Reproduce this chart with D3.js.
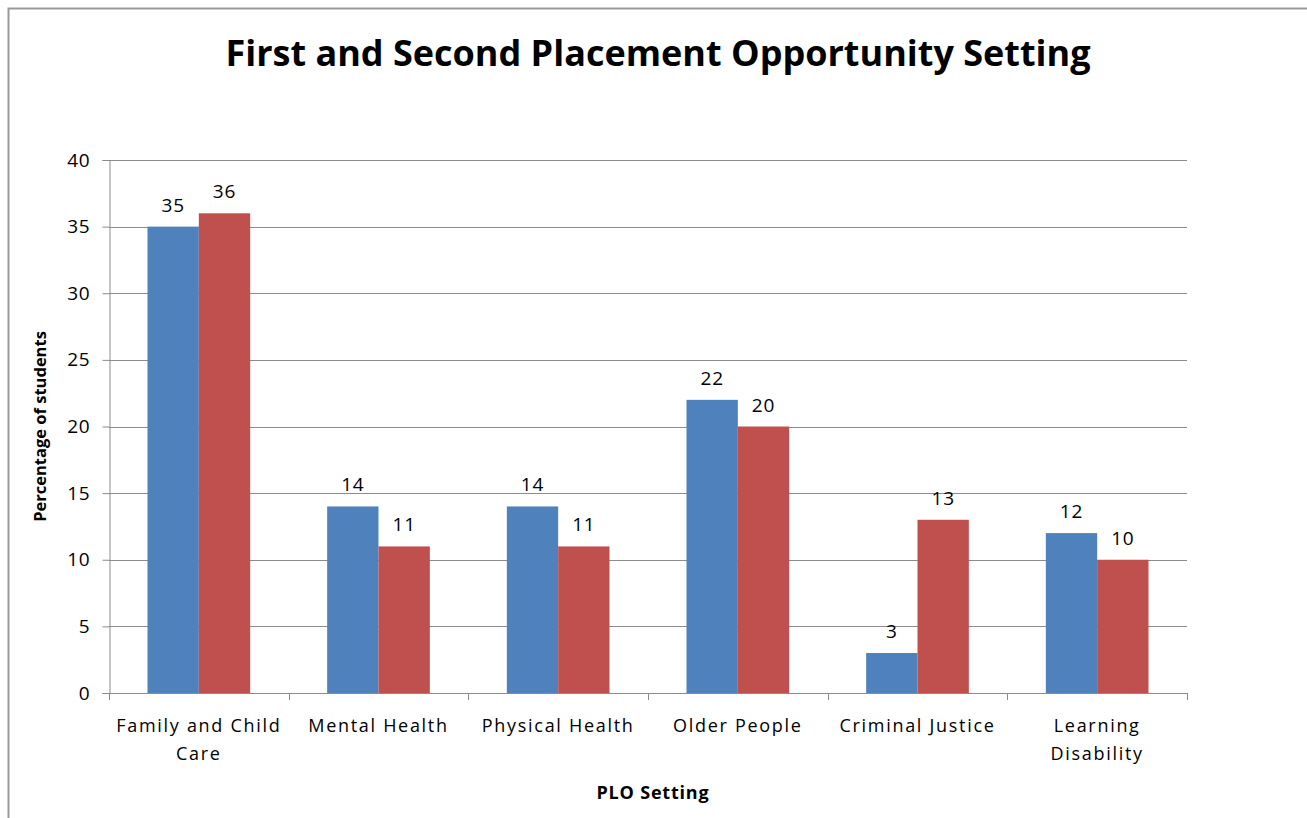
<!DOCTYPE html>
<html>
<head>
<meta charset="utf-8">
<script src="https://cdn.jsdelivr.net/npm/d3@7"></script>
<style>
  body { margin: 0; background: #fff; }
  text { font-family: "Open Sans", "Noto Sans", sans-serif; fill: #000; }
</style>
</head>
<body>
<div id="chart"></div>
<script>
const categories = [["Family and Child", "Care"], ["Mental Health"], ["Physical Health"], ["Older People"], ["Criminal Justice"], ["Learning", "Disability"]];
const firstPlacement = [35, 14, 14, 22, 3, 12];
const secondPlacement = [36, 11, 11, 20, 13, 10];
const yTicks = [0, 5, 10, 15, 20, 25, 30, 35, 40];
const seriesColors = ['#4F81BD', '#C0504D'];

const W = 1307, H = 818;
const MARGIN = { TOP: 160, BOTTOM: 125, LEFT: 109, RIGHT: 120 };

const svg = d3.select('#chart')
  .append('svg')
    .attr('width', W)
    .attr('height', H);

// chart frame
svg.append('path')
  .attr('d', `M8.5,${H} V8.5 H${W}`)
  .attr('fill', 'none')
  .attr('stroke', '#999')
  .attr('stroke-width', 2);

svg.append('text')
  .attr('x', 658)
  .attr('y', 66)
  .attr('text-anchor', 'middle')
  .attr('font-size', 36)
  .attr('font-weight', 700)
  .text('First and Second Placement Opportunity Setting');

const x = d3.scaleBand()
  .domain(d3.range(categories.length))
  .range([MARGIN.LEFT, W - MARGIN.RIGHT]);

const y = d3.scaleLinear()
  .domain([0, 40])
  .range([H - MARGIN.BOTTOM, MARGIN.TOP]);

const inner = d3.scaleBand()
  .domain([0, 1])
  .range([0, x.bandwidth()])
  .paddingOuter(0.75)
  .paddingInner(0);

// gridlines
svg.append('g')
  .selectAll('line')
  .data(yTicks.filter(d => d > 0))
  .join('line')
    .attr('x1', MARGIN.LEFT)
    .attr('x2', W - MARGIN.RIGHT)
    .attr('y1', d => Math.round(y(d)) + 0.5)
    .attr('y2', d => Math.round(y(d)) + 0.5)
    .attr('stroke', '#8c8c8c')
    .attr('stroke-width', 1);

// y axis
const yAxis = svg.append('g')
  .attr('transform', `translate(${MARGIN.LEFT + 0.5},0)`)
  .call(d3.axisLeft(y).tickValues(yTicks).tickSize(7).tickPadding(12));
yAxis.select('.domain').attr('stroke', '#8c8c8c');
yAxis.selectAll('.tick line').attr('stroke', '#8c8c8c');
yAxis.selectAll('.tick text')
  .attr('font-size', 19)
  .attr('letter-spacing', 0.8)
  .attr('font-family', '"Open Sans", sans-serif')
  .attr('fill', '#000');

// bars
const series = [firstPlacement, secondPlacement];
series.forEach((vals, s) => {
  const g = svg.append('g');
  g.selectAll('rect')
    .data(vals)
    .join('rect')
      .attr('x', (d, i) => x(i) + inner(s))
      .attr('y', d => y(d))
      .attr('width', inner.bandwidth())
      .attr('height', d => y(0) - y(d))
      .attr('fill', seriesColors[s]);
  g.selectAll('text')
    .data(vals)
    .join('text')
      .attr('x', (d, i) => x(i) + inner(s) + inner.bandwidth() / 2)
      .attr('y', d => y(d) - 15)
      .attr('text-anchor', 'middle')
      .attr('font-size', 19)
      .attr('letter-spacing', 0.8)
      .text(d => d);
});

// x axis
const xAxisY = y(0);
const xg = svg.append('g');
xg.append('line')
  .attr('x1', MARGIN.LEFT)
  .attr('x2', W - MARGIN.RIGHT)
  .attr('y1', Math.round(xAxisY) + 0.5)
  .attr('y2', Math.round(xAxisY) + 0.5)
  .attr('stroke', '#8c8c8c');
xg.selectAll('line.tick')
  .data(d3.range(categories.length + 1))
  .join('line')
    .attr('class', 'tick')
    .attr('x1', i => Math.round(MARGIN.LEFT + i * x.step()) + 0.5)
    .attr('x2', i => Math.round(MARGIN.LEFT + i * x.step()) + 0.5)
    .attr('y1', xAxisY)
    .attr('y2', xAxisY + 7)
    .attr('stroke', '#8c8c8c');
xg.selectAll('text.cat')
  .data(categories)
  .join('text')
    .attr('class', 'cat')
    .attr('text-anchor', 'middle')
    .attr('font-size', 18)
    .attr('letter-spacing', 1.7)
    .each(function(lines, i) {
      d3.select(this).selectAll('tspan')
        .data(lines)
        .join('tspan')
          .attr('x', x(i) + x.bandwidth() / 2)
          .attr('y', (l, j) => xAxisY + 39 + j * 28)
          .text(l => l);
    });

// axis titles
svg.append('text')
  .attr('transform', `translate(46,${(y(0) + y(40)) / 2}) rotate(-90)`)
  .attr('text-anchor', 'middle')
  .attr('font-size', 16.5)
  .attr('font-weight', 700)
  .text('Percentage of students');

svg.append('text')
  .attr('x', (MARGIN.LEFT + W - MARGIN.RIGHT) / 2 + 5)
  .attr('y', 799)
  .attr('text-anchor', 'middle')
  .attr('font-size', 18)
  .attr('font-weight', 700)
  .attr('letter-spacing', 0.8)
  .text('PLO Setting');
</script>
</body>
</html>
